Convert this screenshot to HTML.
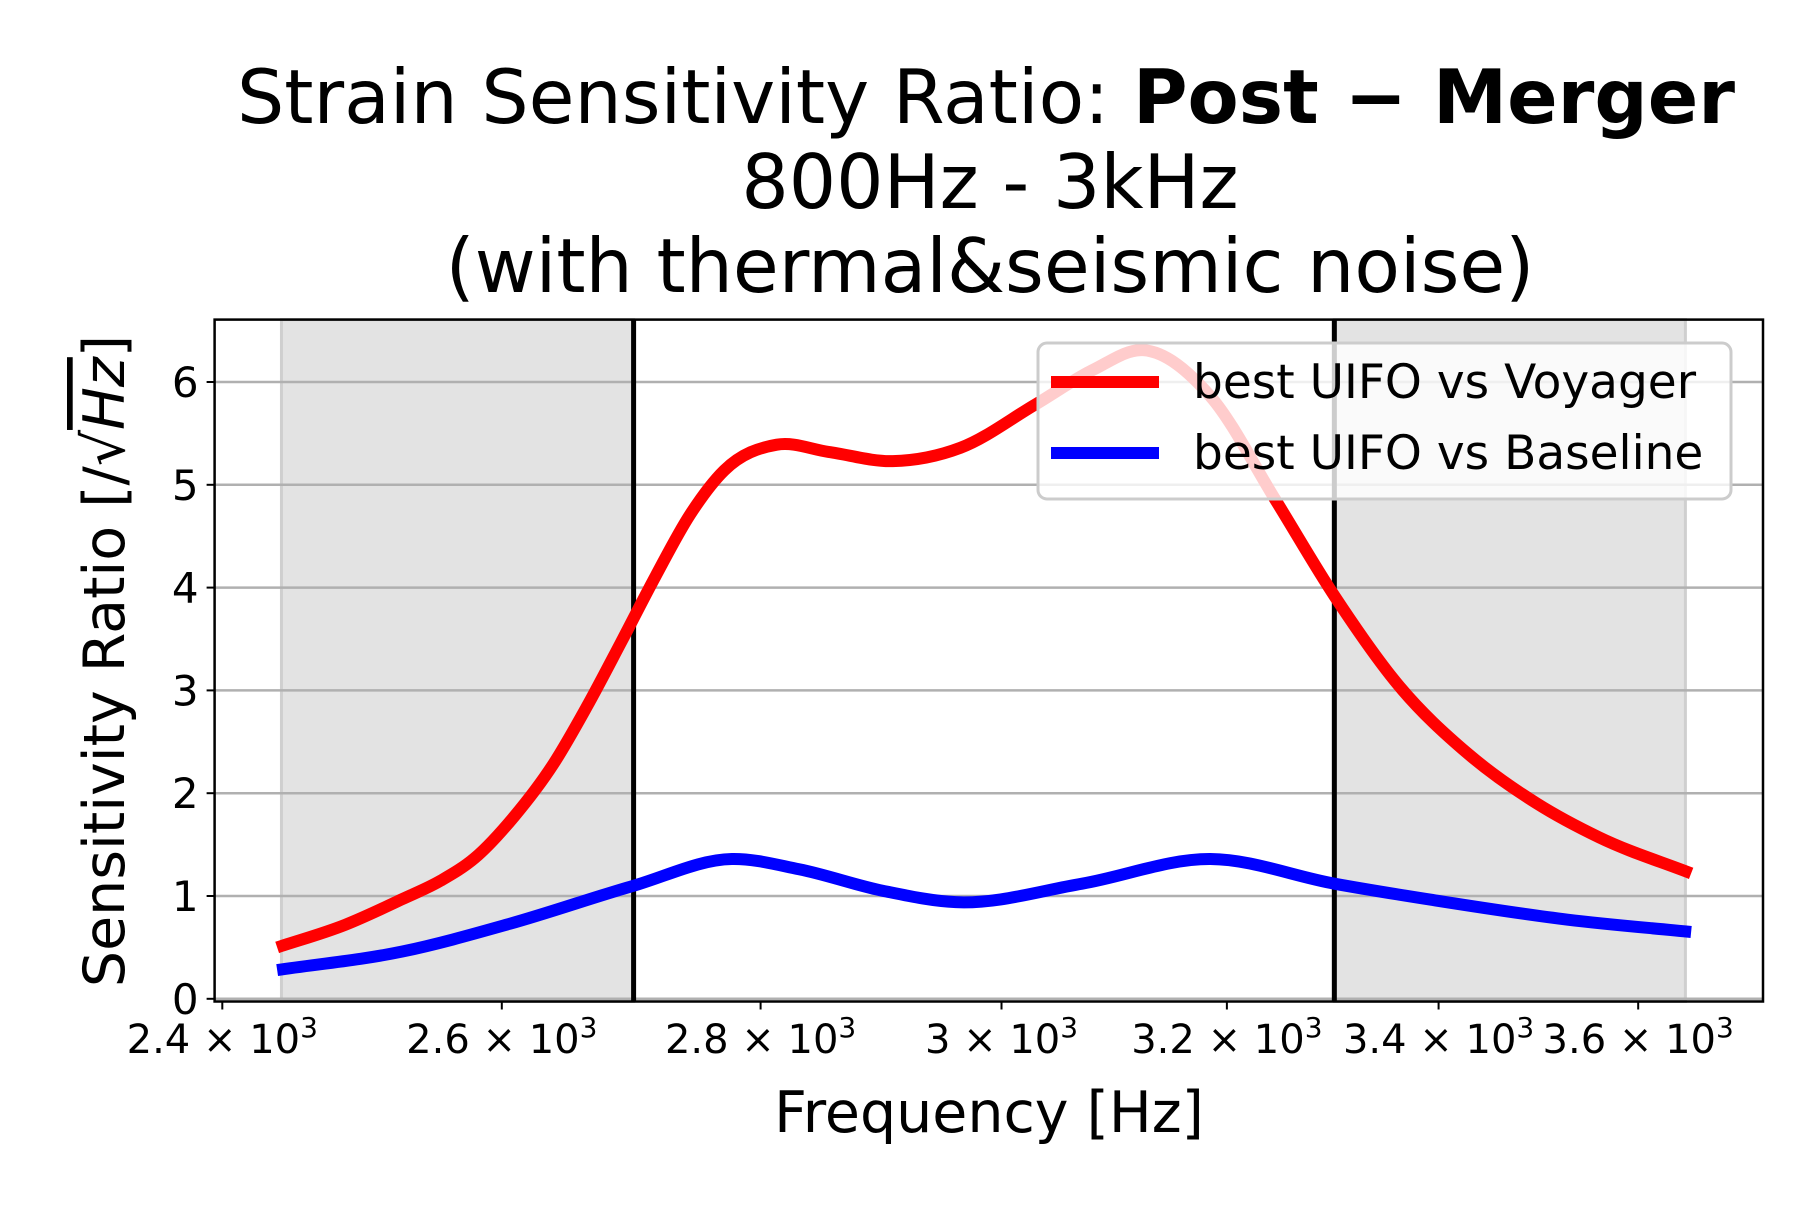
<!DOCTYPE html>
<html><head><meta charset="utf-8"><style>
html,body{margin:0;padding:0;background:#fff}
svg text{font-family:"DejaVu Sans","Liberation Sans",sans-serif}
</style></head><body>
<svg id="chart" width="1800" height="1200" viewBox="0 0 1800 1200" xmlns="http://www.w3.org/2000/svg">
<g id="title" text-anchor="middle" font-size="74.5">
<text x="986" y="123">Strain Sensitivity Ratio: <tspan font-weight="bold">Post − Merger</tspan></text>
<text x="990" y="208">800Hz - 3kHz</text>
<text x="990" y="292">(with thermal&amp;seismic noise)</text>
</g>
<g id="plot"></g>
</svg>
<script>
const freqs = [2438,2486,2527,2555,2580,2609,2639,2664,2690,2717,2744,2771,2813,2855,2908,2965,3029,3080,3124,3185,3245,3300,3362,3428,3497,3560,3655];
const voyager = [0.50,0.72,0.97,1.15,1.37,1.77,2.29,2.84,3.46,4.11,4.71,5.14,5.39,5.32,5.23,5.36,5.78,6.12,6.31,5.86,4.85,3.92,3.04,2.39,1.90,1.57,1.22];
const bFreqs = [2438,2527,2606,2700,2777,2831,2900,2961,3070,3185,3300,3395,3528,3655];
const baseline = [0.28,0.46,0.73,1.10,1.36,1.26,1.05,0.94,1.12,1.36,1.12,0.96,0.77,0.65];
const yTicks = [0,1,2,3,4,5,6];
const xTicks = [2400,2600,2800,3000,3200,3400,3600];
const xTickLabels = ["2.4","2.6","2.8","3","3.2","3.4","3.6"];
const bands = [[2441,2700],[3300,3649]];
const vlines = [2700,3300];

const NS="http://www.w3.org/2000/svg";
const L=214.6,R=1763,T=319.6,B=1001.5;
const xs=f=>222.3+3492*Math.log(f/2400);
const ys=v=>998.8-102.8*v;
const plot=document.getElementById('plot');
function mk(tag,attrs,parent){const e=document.createElementNS(NS,tag);for(const k in attrs)e.setAttribute(k,attrs[k]);(parent||plot).appendChild(e);return e;}
function smooth(pts){
  const n=pts.length,m=[];
  for(let i=0;i<n;i++){
    if(i===0){m.push((pts[1][1]-pts[0][1])/(pts[1][0]-pts[0][0]));continue;}
    if(i===n-1){m.push((pts[n-1][1]-pts[n-2][1])/(pts[n-1][0]-pts[n-2][0]));continue;}
    const h0=pts[i][0]-pts[i-1][0],h1=pts[i+1][0]-pts[i][0];
    const d0=(pts[i][1]-pts[i-1][1])/h0,d1=(pts[i+1][1]-pts[i][1])/h1;
    m.push((h1*d0+h0*d1)/(h0+h1));
  }
  let d=`M${pts[0][0]},${pts[0][1]}`;
  for(let i=0;i<n-1;i++){const h=pts[i+1][0]-pts[i][0];
    d+=` C${pts[i][0]+h/3},${pts[i][1]+m[i]*h/3} ${pts[i+1][0]-h/3},${pts[i+1][1]-m[i+1]*h/3} ${pts[i+1][0]},${pts[i+1][1]}`;}
  return d;}

const clip=mk('clipPath',{id:'clipax'});mk('rect',{x:L,y:T,width:R-L,height:B-T},clip);
bands.forEach((b,i)=>{const r=mk('rect',{x:xs(b[0]),y:T,width:xs(b[1])-xs(b[0]),height:B-T,fill:'#e3e3e3',stroke:'#cfcfcf','stroke-width':3});

});
yTicks.forEach(v=>{const y=ys(v);
const g=mk('line',{x1:L,x2:R,y1:y,y2:y,stroke:'#b0b0b0','stroke-width':2.5});


mk('line',{x1:L-8,x2:L,y1:y,y2:y,stroke:'#000','stroke-width':2});
const t=mk('text',{x:L-16,y:y+15,'text-anchor':'end','font-size':42});t.textContent=v;

});
vlines.forEach((f,i)=>{const l=mk('line',{x1:xs(f),x2:xs(f),y1:T,y2:B,stroke:'#000','stroke-width':5});

});
const rp=mk('path',{d:smooth(freqs.map((f,i)=>[xs(f),ys(voyager[i])])),fill:'none',stroke:'#ff0000','stroke-width':12,'clip-path':'url(#clipax)'});


const bp=mk('path',{d:smooth(bFreqs.map((f,i)=>[xs(f),ys(baseline[i])])),fill:'none',stroke:'#0000ff','stroke-width':12,'clip-path':'url(#clipax)'});


const fr=mk('rect',{x:L,y:T,width:R-L,height:B-T,fill:'none',stroke:'#000','stroke-width':2.5});


xTicks.forEach((f,i)=>{const x=xs(f);mk('line',{x1:x,x2:x,y1:B,y2:B+8,stroke:'#000','stroke-width':2});
const t=mk('text',{x:x,y:1053,'text-anchor':'middle','font-size':40});
t.innerHTML=xTickLabels[i]+' × 10<tspan dy="-16" font-size="28">3</tspan>';

});
const xl=mk('text',{x:989,y:1132,'text-anchor':'middle','font-size':57});xl.textContent='Frequency [Hz]';


const yl=mk('text',{x:0,y:0,'text-anchor':'middle','font-size':57,transform:'translate(124,661) rotate(-90)'});
yl.innerHTML='Sensitivity Ratio [/√<tspan font-style="italic" text-decoration="overline">Hz</tspan>]';


const lg=mk('g',{});


mk('rect',{x:1038,y:343,width:693,height:156,rx:9,fill:'#fff','fill-opacity':0.8,stroke:'#cccccc','stroke-width':3},lg);
mk('line',{x1:1051,x2:1159,y1:382,y2:382,stroke:'#ff0000','stroke-width':12},lg);
mk('line',{x1:1051,x2:1159,y1:453,y2:453,stroke:'#0000ff','stroke-width':12},lg);
const t1=mk('text',{x:1193,y:398,'font-size':47},lg);t1.textContent='best UIFO vs Voyager';


const t2=mk('text',{x:1193,y:469,'font-size':47},lg);t2.textContent='best UIFO vs Baseline';


</script>
</body></html>
